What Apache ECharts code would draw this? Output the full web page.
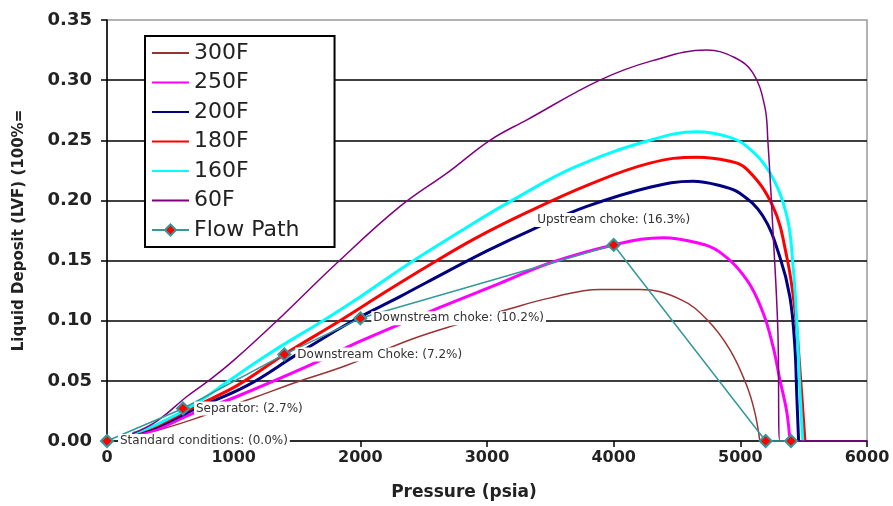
<!DOCTYPE html>
<html>
<head>
<meta charset="utf-8">
<script src="https://cdn.jsdelivr.net/npm/echarts@6/dist/echarts.min.js"></script>
<style>
html,body{margin:0;padding:0;background:#fff;}
#chart{width:893px;height:506px;}
</style>
</head>
<body>
<div id="chart"></div>
<script>
// ---- data (pressure psia, liquid volume fraction) ----
const seriesNames = ['300F', '250F', '200F', '180F', '160F', '60F', 'Flow Path'];

const s300F = [[200,0.005],[400,0.009],[679,0.018],[1184,0.037],[1500,0.049],[1894,0.063],[2415,0.085],[2800,0.098],[3181,0.110],[3500,0.119],[3891,0.126],[4207,0.126],[4522,0.118],[4736,0.101],[4917,0.076],[5051,0.046],[5114,0.024],[5154,0]];
const s250F = [[200,0.005],[400,0.010],[655,0.022],[1026,0.037],[1602,0.063],[2000,0.083],[2628,0.111],[3100,0.131],[3497,0.148],[4000,0.163],[4390,0.169],[4650,0.165],[4838,0.157],[5051,0.134],[5178,0.107],[5257,0.079],[5312,0.051],[5367,0.024],[5391,0]];
const s200F = [[200,0.006],[400,0.012],[700,0.027],[1105,0.046],[1500,0.072],[1942,0.100],[2313,0.120],[2526,0.132],[3000,0.158],[3362,0.176],[3788,0.195],[4286,0.211],[4625,0.216],[4850,0.212],[4996,0.206],[5178,0.187],[5312,0.153],[5391,0.120],[5430,0.079],[5446,0.037],[5460,0]];
const s180F = [[200,0.006],[400,0.013],[700,0.029],[1026,0.046],[1400,0.072],[1839,0.100],[2200,0.124],[2526,0.145],[2900,0.168],[3315,0.190],[3800,0.213],[4286,0.231],[4657,0.236],[4900,0.233],[5051,0.226],[5257,0.195],[5367,0.153],[5430,0.110],[5470,0.060],[5510,0]];
const s160F = [[200,0.006],[400,0.014],[700,0.031],[947,0.049],[1300,0.074],[1705,0.100],[2000,0.120],[2391,0.148],[2800,0.175],[3181,0.199],[3700,0.228],[4286,0.250],[4657,0.257],[4900,0.253],[5051,0.245],[5233,0.223],[5367,0.187],[5414,0.148],[5446,0.099],[5470,0.043],[5493,0]];
const s60F = [[200,0.006],[400,0.017],[631,0.037],[813,0.051],[1000,0.067],[1342,0.100],[1815,0.148],[2313,0.195],[2700,0.224],[3023,0.250],[3315,0.267],[3891,0.300],[4300,0.316],[4736,0.325],[4950,0.319],[5099,0.306],[5193,0.278],[5217,0.250],[5257,0.176],[5296,0.093],[5312,0],[6000,0]];

const flowP = [0, 600, 1400, 2000, 4000, 5200, 5400];
const flowV = [0, 0.027, 0.072, 0.102, 0.163, 0, 0];
const flowLabels = ['Standard conditions: (0.0%)', 'Separator: (2.7%)', 'Downstream Choke: (7.2%)', 'Downstream choke: (10.2%)', 'Upstream choke: (16.3%)', '', ''];

const xTicks = [0, 1000, 2000, 3000, 4000, 5000, 6000];
const yTicks = ['0.00','0.05','0.10','0.15','0.20','0.25','0.30','0.35'];

// ---- chart ----
const chart = echarts.init(document.getElementById('chart'), null, {renderer: 'canvas'});

const lineStyles = [
  {color: '#993333', width: 1.5},
  {color: '#FF00FF', width: 3},
  {color: '#000080', width: 3},
  {color: '#FF0000', width: 3},
  {color: '#00FFFF', width: 3},
  {color: '#800080', width: 1.5}
];
const curveData = [s300F, s250F, s200F, s180F, s160F, s60F];

const curveSeries = curveData.map((d, i) => ({
  name: seriesNames[i],
  type: 'line',
  data: d,
  showSymbol: false,
  symbol: 'circle',
  smooth: 0.4,
  lineStyle: {color: lineStyles[i].color, width: lineStyles[i].width},
  itemStyle: {color: lineStyles[i].color, opacity: 0},
  z: 2 + i,
  silent: true
}));

const flowData = flowP.map((p, i) => {
  const item = {value: [p, flowV[i]]};
  if (flowLabels[i]) {
    item.label = {show: true, formatter: flowLabels[i]};
    if (i === 4) {
      item.label.position = 'top';
      item.label.distance = 11;
    } else {
      item.label.position = 'right';
      item.label.distance = 4;
    }
  }
  return item;
});

const flowSeries = {
  name: seriesNames[6],
  type: 'line',
  data: flowData,
  symbol: 'diamond',
  symbolSize: 12,
  clip: false,
  lineStyle: {color: '#339999', width: 1.5},
  itemStyle: {color: '#FF0000', borderColor: '#339999', borderWidth: 2},
  label: {
    fontFamily: 'DejaVu Sans',
    fontSize: 12,
    color: '#333',
    backgroundColor: '#fff',
    padding: [1, 2]
  },
  z: 10,
  silent: true
};

const tickFont = {fontFamily: 'DejaVu Sans', fontWeight: 'bold', color: '#222'};

chart.setOption({
  backgroundColor: '#fff',
  animation: false,
  grid: {left: 107, right: 26, top: 20, bottom: 64, show: true, borderColor: '#999', borderWidth: 1.5, backgroundColor: 'transparent'},
  legend: {
    orient: 'vertical',
    left: 145,
    top: 36,
    data: seriesNames,
    itemWidth: 37,
    itemHeight: 14,
    itemGap: 7.5,
    padding: [6, 35, 6, 6],
    backgroundColor: '#fff',
    borderColor: '#000',
    borderWidth: 2,
    borderRadius: 0,
    textStyle: {fontFamily: 'DejaVu Sans', fontSize: 22, color: '#222', lineHeight: 22},
    z: 20
  },
  xAxis: {
    type: 'value',
    min: 0,
    max: 6000,
    interval: 1000,
    name: 'Pressure (psia)',
    nameLocation: 'middle',
    nameGap: 43,
    nameTextStyle: {fontFamily: 'DejaVu Sans', fontWeight: 'bold', fontSize: 17, color: '#222', padding: [0, 46, 0, 0]},
    axisLine: {show: true, onZero: false, lineStyle: {color: '#000', width: 1.5}},
    axisTick: {show: true, inside: false, length: 6, lineStyle: {color: '#000', width: 1.5}},
    axisLabel: {margin: 9, fontSize: 16, ...tickFont, formatter: v => String(xTicks[Math.round(v / 1000)])},
    splitLine: {show: false}
  },
  yAxis: {
    type: 'value',
    min: 0,
    max: 0.35,
    interval: 0.05,
    name: 'Liquid Deposit (LVF) (100%=',
    nameLocation: 'middle',
    nameGap: 80,
    nameTextStyle: {fontFamily: 'DejaVu Sans', fontWeight: 'bold', fontSize: 15, color: '#222'},
    axisLine: {show: true, onZero: false, lineStyle: {color: '#000', width: 1.5}},
    axisTick: {show: true, inside: false, length: 6, lineStyle: {color: '#000', width: 1.5}},
    axisLabel: {margin: 15, fontSize: 18, ...tickFont, formatter: v => yTicks[Math.round(v / 0.05)]},
    splitLine: {show: true, showMinLine: false, showMaxLine: false, lineStyle: {color: '#000', width: 1.5}}
  },
  series: [...curveSeries, flowSeries]
});
</script>
</body>
</html>
